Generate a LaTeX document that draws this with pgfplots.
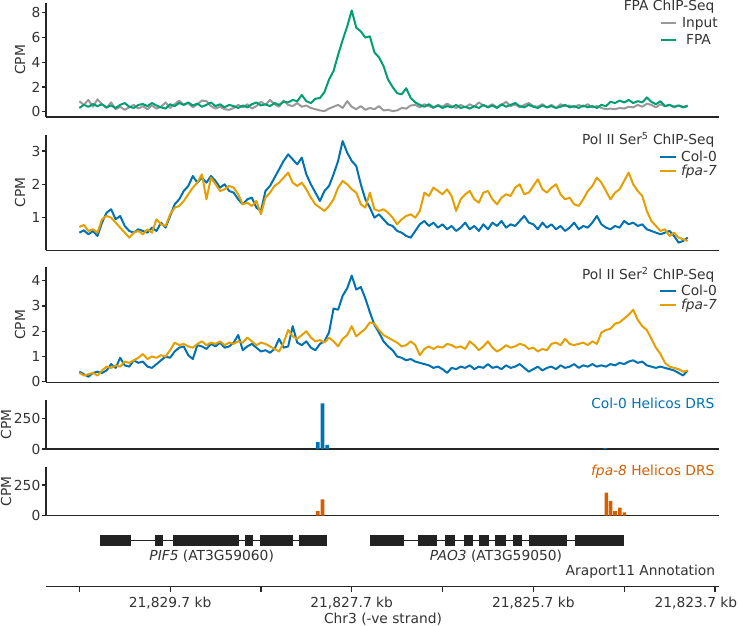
\documentclass[border=0pt]{standalone}
\usepackage{fontspec}
\setmainfont{DejaVu Sans}
\usepackage{pgfplots}
\usepackage{pgfplotstable}
\pgfplotsset{compat=1.18}
\definecolor{cgray}{HTML}{999999}
\definecolor{cgreen}{HTML}{009E73}
\definecolor{cblue}{HTML}{0072B2}
\definecolor{corange}{HTML}{E69F00}
\definecolor{cverm}{HTML}{D55E00}
\definecolor{axc}{HTML}{262626}
\definecolor{txt}{HTML}{333333}
\definecolor{genec}{HTML}{222222}
\newcommand\fs{\fontsize{13.8pt}{16pt}\selectfont}

% FPA ChIP-Seq: d = kb along the -ve strand from 21,830.7 kb
\pgfplotstableread{
d input fpa
0.00 0.85 0.30
0.05 0.55 0.55
0.10 0.95 0.40
0.15 0.40 0.62
0.20 1.00 0.45
0.25 0.60 0.60
0.30 0.30 0.35
0.35 0.75 0.50
0.40 0.20 0.30
0.45 0.40 0.55
0.50 0.15 0.70
0.55 0.35 0.40
0.60 0.55 0.30
0.65 0.25 0.55
0.70 0.45 0.62
0.75 0.20 0.45
0.80 0.50 0.70
0.85 0.25 0.50
0.90 0.40 0.35
0.95 0.75 0.25
1.00 0.30 0.60
1.05 0.60 0.45
1.10 0.90 0.70
1.15 0.55 0.55
1.20 0.70 0.75
1.25 0.35 0.50
1.30 0.60 0.65
1.35 0.90 0.40
1.40 0.85 0.55
1.45 0.45 0.75
1.50 0.25 0.45
1.55 0.40 0.60
1.60 0.20 0.35
1.65 0.15 0.55
1.70 0.30 0.45
1.75 0.55 0.30
1.80 0.35 0.50
1.85 0.60 0.35
1.90 0.25 0.60
1.95 0.45 0.75
2.00 0.80 0.50
2.05 0.55 0.60
2.10 0.95 0.45
2.15 0.60 0.70
2.20 0.40 0.55
2.25 0.90 0.80
2.30 0.55 0.75
2.35 0.45 0.95
2.40 0.70 0.85
2.45 0.40 1.35
2.50 0.50 0.85
2.55 0.30 0.70
2.60 0.20 1.05
2.65 0.10 1.10
2.70 0.05 1.60
2.75 0.25 2.60
2.80 0.40 3.30
2.85 0.55 4.60
2.90 0.30 5.80
2.95 0.85 6.90
3.00 0.40 8.20
3.05 0.20 6.80
3.10 0.45 6.50
3.15 0.15 6.00
3.20 0.30 6.10
3.25 0.20 4.80
3.30 0.45 4.40
3.35 0.10 3.70
3.40 0.15 2.60
3.45 0.05 2.00
3.50 0.10 1.50
3.55 0.30 1.40
3.60 0.25 1.90
3.65 0.50 1.10
3.70 0.55 0.75
3.75 0.35 0.55
3.80 0.60 0.40
3.85 0.45 0.60
3.90 0.30 0.35
3.95 0.55 0.50
4.00 0.40 0.30
4.05 0.65 0.45
4.10 0.45 0.35
4.15 0.30 0.55
4.20 0.55 0.30
4.25 0.35 0.40
4.30 0.60 0.25
4.35 0.40 0.45
4.40 0.75 0.30
4.45 0.50 0.55
4.50 0.40 0.35
4.55 0.60 0.50
4.60 0.35 0.30
4.65 0.55 0.60
4.70 0.80 0.40
4.75 0.45 0.55
4.80 0.60 0.70
4.85 0.35 0.45
4.90 0.55 0.35
4.95 0.70 0.55
5.00 0.45 0.40
5.05 0.40 0.30
5.10 0.60 0.50
5.15 0.35 0.35
5.20 0.55 0.45
5.25 0.30 0.30
5.30 0.60 0.40
5.35 0.45 0.55
5.40 0.50 0.35
5.45 0.35 0.45
5.50 0.55 0.30
5.55 0.40 0.50
5.60 0.60 0.35
5.65 0.35 0.45
5.70 0.45 0.30
5.75 0.30 0.55
5.80 0.20 0.45
5.85 0.25 0.80
5.90 0.20 0.70
5.95 0.30 0.90
6.00 0.25 0.75
6.05 0.40 0.95
6.10 0.35 0.70
6.15 0.55 0.85
6.20 0.40 0.75
6.25 0.65 1.15
6.30 0.55 0.80
6.35 0.35 0.60
6.40 0.60 0.85
6.45 0.45 0.45
6.50 0.55 0.55
6.55 0.35 0.40
6.60 0.50 0.50
6.65 0.40 0.35
6.70 0.50 0.45
}\tA

% Pol II Ser5 ChIP-Seq
\pgfplotstableread{
d col fpa
0.00 0.55 0.72
0.05 0.62 0.78
0.10 0.50 0.60
0.15 0.60 0.65
0.20 0.45 0.55
0.25 0.85 0.95
0.30 1.15 1.05
0.35 1.25 1.00
0.40 0.95 0.85
0.45 1.05 0.70
0.50 0.75 0.55
0.55 0.60 0.40
0.60 0.55 0.55
0.65 0.65 0.60
0.70 0.60 0.50
0.75 0.55 0.65
0.80 0.70 0.55
0.85 0.60 0.95
0.90 0.85 0.80
0.95 0.70 0.75
1.00 1.05 1.10
1.05 1.40 1.30
1.10 1.55 1.35
1.15 1.80 1.50
1.20 1.95 1.70
1.25 2.25 1.90
1.30 2.05 2.05
1.35 2.20 2.30
1.40 2.05 1.55
1.45 2.25 2.20
1.50 2.10 2.00
1.55 1.90 1.80
1.60 2.00 1.85
1.65 1.80 1.95
1.70 1.75 1.90
1.75 1.55 1.70
1.80 1.40 1.40
1.85 1.55 1.45
1.90 1.60 1.35
1.95 1.30 1.50
2.00 1.20 1.10
2.05 1.80 1.60
2.10 1.95 1.75
2.15 2.20 1.95
2.20 2.45 2.05
2.25 2.70 2.20
2.30 2.90 2.35
2.35 2.75 2.05
2.40 2.60 1.95
2.45 2.80 2.05
2.50 2.30 1.85
2.55 2.00 1.60
2.60 1.75 1.40
2.65 1.50 1.30
2.70 1.80 1.20
2.75 1.95 1.35
2.80 2.30 1.55
2.85 2.70 1.90
2.90 3.30 2.10
2.95 2.95 2.00
3.00 2.70 1.85
3.05 2.55 1.75
3.10 2.00 1.40
3.15 1.55 1.30
3.20 1.30 1.75
3.25 1.00 1.25
3.30 1.10 1.20
3.35 0.95 1.25
3.40 0.80 1.15
3.45 0.75 1.00
3.50 0.60 0.80
3.55 0.55 0.95
3.60 0.45 1.05
3.65 0.40 1.10
3.70 0.60 1.00
3.75 0.80 1.20
3.80 0.90 1.75
3.85 0.75 1.65
3.90 0.85 1.90
3.95 0.70 1.80
4.00 0.80 1.70
4.05 0.65 1.85
4.10 0.75 1.65
4.15 0.60 1.20
4.20 0.70 1.55
4.25 0.85 1.70
4.30 0.65 1.80
4.35 0.75 1.55
4.40 0.60 1.45
4.45 0.80 1.75
4.50 0.65 1.80
4.55 0.85 1.55
4.60 0.75 1.40
4.65 0.90 1.60
4.70 0.70 1.70
4.75 0.80 1.65
4.80 0.75 1.90
4.85 0.90 2.00
4.90 1.05 1.70
4.95 0.85 1.75
5.00 0.80 1.95
5.05 0.65 2.15
5.10 0.85 1.85
5.15 0.70 1.75
5.20 0.80 1.90
5.25 0.65 2.00
5.30 0.75 1.70
5.35 0.60 1.55
5.40 0.70 1.60
5.45 0.85 1.40
5.50 0.65 1.35
5.55 0.75 1.55
5.60 0.70 1.80
5.65 0.85 1.95
5.70 1.05 2.20
5.75 0.80 2.05
5.80 0.70 1.80
5.85 0.65 1.55
5.90 0.75 1.75
5.95 0.70 1.85
6.00 0.90 2.10
6.05 0.80 2.35
6.10 0.85 2.00
6.15 0.75 1.80
6.20 0.80 1.65
6.25 0.65 1.20
6.30 0.60 0.90
6.35 0.55 0.75
6.40 0.50 0.60
6.45 0.55 0.65
6.50 0.60 0.45
6.55 0.45 0.55
6.60 0.25 0.40
6.65 0.30 0.35
6.70 0.40 0.30
}\tB

% Pol II Ser2 ChIP-Seq
\pgfplotstableread{
d col fpa
0.00 0.40 0.35
0.05 0.30 0.25
0.10 0.20 0.30
0.15 0.35 0.35
0.20 0.40 0.25
0.25 0.35 0.45
0.30 0.45 0.60
0.35 0.70 0.55
0.40 0.55 0.65
0.45 0.95 0.60
0.50 0.65 0.80
0.55 0.60 0.75
0.60 0.85 0.85
0.65 0.75 0.95
0.70 0.80 1.10
0.75 0.60 0.90
0.80 0.55 1.00
0.85 0.70 0.95
0.90 0.85 1.05
0.95 1.00 1.00
1.00 0.95 1.25
1.05 1.20 1.55
1.10 1.35 1.45
1.15 1.40 1.50
1.20 1.05 1.40
1.25 0.90 1.35
1.30 1.45 1.50
1.35 1.40 1.60
1.40 1.30 1.45
1.45 1.50 1.55
1.50 1.40 1.50
1.55 1.55 1.60
1.60 1.35 1.45
1.65 1.40 1.55
1.70 1.55 1.50
1.75 1.85 1.60
1.80 1.25 1.55
1.85 1.40 1.75
1.90 1.50 1.60
1.95 1.35 1.45
2.00 1.20 1.55
2.05 1.25 1.50
2.10 1.15 1.40
2.15 1.30 1.30
2.20 1.70 1.20
2.25 1.35 1.55
2.30 1.40 2.05
2.35 2.20 1.80
2.40 1.55 1.70
2.45 1.45 1.85
2.50 1.60 2.00
2.55 1.35 1.75
2.60 1.25 1.60
2.65 1.50 1.65
2.70 1.60 1.55
2.75 1.95 1.75
2.80 2.90 1.60
2.85 2.85 1.40
2.90 3.40 1.70
2.95 3.70 1.85
3.00 4.20 2.20
3.05 3.65 1.80
3.10 3.75 1.95
3.15 3.30 2.10
3.20 2.75 2.35
3.25 2.25 2.30
3.30 1.95 2.05
3.35 1.60 1.85
3.40 1.40 1.75
3.45 1.25 1.65
3.50 1.00 1.55
3.55 0.95 1.40
3.60 0.85 1.45
3.65 0.90 1.60
3.70 0.80 1.45
3.75 0.75 1.05
3.80 0.70 1.30
3.85 0.65 1.40
3.90 0.55 1.30
3.95 0.60 1.40
4.00 0.50 1.35
4.05 0.35 1.50
4.10 0.55 1.45
4.15 0.50 1.35
4.20 0.60 1.40
4.25 0.55 1.30
4.30 0.65 1.60
4.35 0.50 1.45
4.40 0.60 1.25
4.45 0.55 1.40
4.50 0.70 1.60
4.55 0.55 1.35
4.60 0.60 1.20
4.65 0.50 1.30
4.70 0.65 1.45
4.75 0.55 1.35
4.80 0.60 1.40
4.85 0.70 1.50
4.90 0.55 1.45
4.95 0.40 1.30
5.00 0.50 1.35
5.05 0.60 1.20
5.10 0.45 1.30
5.15 0.55 1.25
5.20 0.60 1.50
5.25 0.50 1.55
5.30 0.65 1.45
5.35 0.55 1.70
5.40 0.60 1.50
5.45 0.70 1.45
5.50 0.55 1.50
5.55 0.65 1.55
5.60 0.60 1.45
5.65 0.70 1.60
5.70 0.60 1.50
5.75 0.65 1.95
5.80 0.60 2.05
5.85 0.70 2.10
5.90 0.65 2.30
5.95 0.75 2.35
6.00 0.70 2.50
6.05 0.80 2.65
6.10 0.85 2.85
6.15 0.75 2.45
6.20 0.80 2.20
6.25 0.65 2.05
6.30 0.60 1.70
6.35 0.55 1.35
6.40 0.60 1.10
6.45 0.55 0.75
6.50 0.50 0.60
6.55 0.45 0.55
6.60 0.35 0.50
6.65 0.25 0.40
6.70 0.45 0.45
}\tC

\pgfplotsset{panel/.style={
  scale only axis, width=673pt, xmin=-0.367, xmax=7.045,
  anchor=south west,
  axis x line*=bottom, axis y line*=left, xtick=\empty,
  tick align=outside, major tick length=4pt,
  axis line style={line width=1.5pt, axc},
  every tick/.style={axc, line width=1.2pt},
  yticklabel style={font=\fs, text=txt, inner sep=1.5pt},
  /pgf/number format/assume math mode=true},
  trace/.style={line width=2pt, line join=round}}

\begin{document}
\begin{tikzpicture}[font=\fs]
\useasboundingbox (0,0) rectangle (739pt,626pt);

% Panel 1
\begin{axis}[panel, at={(46pt,509pt)}, height=114pt, ymin=-0.43, ymax=8.8, ytick={0,2,4,6,8}]
\addplot[trace, cgray] table[x=d, y=input]{\tA};
\addplot[trace, cgreen] table[x=d, y=fpa]{\tA};
\end{axis}

% Panel 2
\begin{axis}[panel, at={(46pt,375.7pt)}, height=115.3pt, ymin=0.02, ymax=3.48, ytick={1,2,3}]
\addplot[trace, cblue] table[x=d, y=col]{\tB};
\addplot[trace, corange] table[x=d, y=fpa]{\tB};
\end{axis}

% Panel 3
\begin{axis}[panel, at={(46pt,243.7pt)}, height=115pt, ymin=-0.02, ymax=4.53, ytick={0,1,2,3,4}]
\addplot[trace, cblue] table[x=d, y=col]{\tC};
\addplot[trace, corange] table[x=d, y=fpa]{\tC};
\end{axis}

% Panel 4
\begin{axis}[panel, at={(46pt,177pt)}, height=49pt, ymin=0, ymax=399, ytick={0,250}]
\addplot[ybar, bar width=3.6pt, bar shift=0pt, fill=cblue, draw=none]
  coordinates {(2.626,55) (2.678,372) (2.730,33) (5.790,8)};
\end{axis}

% Panel 5
\begin{axis}[panel, at={(46pt,110.3pt)}, height=49pt, ymin=0, ymax=399, ytick={0,250}]
\addplot[ybar, bar width=3.6pt, bar shift=0pt, fill=cverm, draw=none]
  coordinates {(2.626,38) (2.678,133) (5.804,187) (5.852,120) (5.900,38) (5.953,65) (6.002,28)};
\end{axis}

% Annotation + genomic axis
\begin{axis}[scale only axis, width=673pt, height=62pt, at={(46pt,39.3pt)}, anchor=south west,
  xmin=-0.367, xmax=7.045, ymin=0, ymax=62,
  axis x line*=bottom, axis y line=none,
  axis line style={line width=1.5pt, axc},
  tick align=outside, major tick length=5.5pt,
  every tick/.style={axc, line width=1.2pt},
  xtick={0,1,2,3,4,5,6},
  xticklabels={,21{,}829.7 kb,,21{,}827.7 kb,,21{,}825.7 kb,},
  extra x ticks={7}, extra x tick labels={21{,}823.7 kb},
  extra x tick style={xticklabel style={xshift=-19pt}},
  xticklabel style={font=\fs, text=txt, inner sep=0pt, yshift=-4.5pt}]
\addplot[genec, line width=1.5pt] coordinates {(0.230,46.3) (2.727,46.3)};
\addplot[genec, line width=1.5pt] coordinates {(3.204,46.3) (6.001,46.3)};
\addplot[fill=genec, draw=none] coordinates {(0.230,41) (0.567,41) (0.567,51.7) (0.230,51.7)} --cycle;
\addplot[fill=genec, draw=none] coordinates {(0.836,41) (0.924,41) (0.924,51.7) (0.836,51.7)} --cycle;
\addplot[fill=genec, draw=none] coordinates {(1.033,41) (1.758,41) (1.758,51.7) (1.033,51.7)} --cycle;
\addplot[fill=genec, draw=none] coordinates {(1.820,41) (1.909,41) (1.909,51.7) (1.820,51.7)} --cycle;
\addplot[fill=genec, draw=none] coordinates {(1.986,41) (2.349,41) (2.349,51.7) (1.986,51.7)} --cycle;
\addplot[fill=genec, draw=none] coordinates {(2.422,41) (2.727,41) (2.727,51.7) (2.422,51.7)} --cycle;
\addplot[fill=genec, draw=none] coordinates {(3.204,41) (3.581,41) (3.581,51.7) (3.204,51.7)} --cycle;
\addplot[fill=genec, draw=none] coordinates {(3.727,41) (3.934,41) (3.934,51.7) (3.727,51.7)} --cycle;
\addplot[fill=genec, draw=none] coordinates {(4.032,41) (4.141,41) (4.141,51.7) (4.032,51.7)} --cycle;
\addplot[fill=genec, draw=none] coordinates {(4.235,41) (4.333,41) (4.333,51.7) (4.235,51.7)} --cycle;
\addplot[fill=genec, draw=none] coordinates {(4.405,41) (4.509,41) (4.509,51.7) (4.405,51.7)} --cycle;
\addplot[fill=genec, draw=none] coordinates {(4.581,41) (4.695,41) (4.695,51.7) (4.581,51.7)} --cycle;
\addplot[fill=genec, draw=none] coordinates {(4.773,41) (4.877,41) (4.877,51.7) (4.773,51.7)} --cycle;
\addplot[fill=genec, draw=none] coordinates {(4.955,41) (5.369,41) (5.369,51.7) (4.955,51.7)} --cycle;
\addplot[fill=genec, draw=none] coordinates {(5.457,41) (6.001,41) (6.001,51.7) (5.457,51.7)} --cycle;
\end{axis}

% y labels
\node[rotate=90, text=txt] at (20pt,566pt) {CPM};
\node[rotate=90, text=txt] at (20pt,433.4pt) {CPM};
\node[rotate=90, text=txt] at (20pt,301.2pt) {CPM};
\node[rotate=90, text=txt] at (6pt,201.5pt) {CPM};
\node[rotate=90, text=txt] at (6pt,134.8pt) {CPM};

% Panel 1 legend
\node[anchor=base east, text=txt] at (718pt,615pt) {FPA ChIP-Seq};
\draw[cgray, line width=1.8pt] (661pt,602.7pt) -- (676pt,602.7pt);
\node[anchor=base, text=txt] at (700pt,598.2pt) {Input};
\draw[cgreen, line width=1.8pt] (661pt,586pt) -- (676pt,586pt);
\node[anchor=base, text=txt] at (698.5pt,581.5pt) {FPA};

% Panel 2 legend
\node[anchor=base east, text=txt] at (718pt,481pt) {Pol II Ser\textsuperscript{5} ChIP-Seq};
\draw[cblue, line width=1.8pt] (660pt,468.7pt) -- (675.7pt,468.7pt);
\node[anchor=base, text=txt] at (699pt,464.2pt) {Col-0};
\draw[corange, line width=1.8pt] (660pt,455.3pt) -- (675.7pt,455.3pt);
\node[anchor=base, text=txt] at (699pt,450.8pt) {\itshape fpa-7};

% Panel 3 legend
\node[anchor=base east, text=txt] at (718pt,346pt) {Pol II Ser\textsuperscript{2} ChIP-Seq};
\draw[cblue, line width=1.8pt] (660pt,335pt) -- (675.7pt,335pt);
\node[anchor=base, text=txt] at (699pt,330.5pt) {Col-0};
\draw[corange, line width=1.8pt] (660pt,321pt) -- (675.7pt,321pt);
\node[anchor=base, text=txt] at (699pt,316.5pt) {\itshape fpa-7};

% Panels 4-5 titles
\node[anchor=base east, text=cblue] at (718pt,217.5pt) {Col-0 Helicos DRS};
\node[anchor=base east, text=cverm] at (718pt,150.2pt) {{\itshape fpa-8} Helicos DRS};

% Annotation labels
\node[anchor=base, text=txt] at (211.7pt,65pt) {{\itshape PIF5} (AT3G59060)};
\node[anchor=base, text=txt] at (496pt,65pt) {{\itshape PAO3} (AT3G59050)};
\node[anchor=base east, text=txt] at (718.7pt,50pt) {Araport11 Annotation};
\node[anchor=base, text=txt] at (383pt,2.8pt) {Chr3 (-ve strand)};
\end{tikzpicture}
\end{document}
